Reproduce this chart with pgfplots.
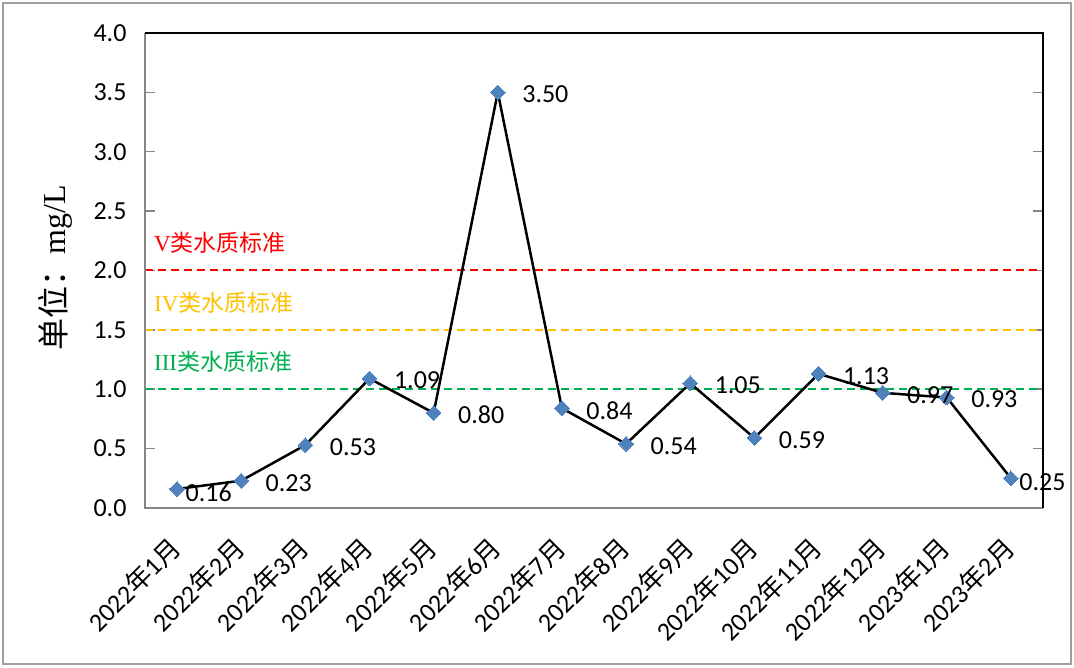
\documentclass[border=0pt]{standalone}
\usepackage{fontspec}
\setmainfont{Carlito}
\newfontfamily\cjk{Noto Sans CJK SC}
\newfontfamily\ser{Liberation Serif}
\usepackage{pgfplots}
\pgfplotsset{compat=1.18}
\definecolor{mblue}{RGB}{79,129,189}
\definecolor{gspine}{RGB}{134,134,134}
\definecolor{cred}{RGB}{255,0,0}
\definecolor{corange}{RGB}{255,192,0}
\definecolor{cgreen}{RGB}{0,176,80}
\newcommand{\ym}[2]{#1{\cjk 年}#2{\cjk 月}}
\begin{document}
\begin{tikzpicture}[x=1pt,y=1pt]
\useasboundingbox (-145,-160) rectangle (929,508);
\draw[gray!75, line width=2pt] (-142,-156) rectangle (926,505);
\begin{axis}[at={(0,0)}, anchor=south west, scale only axis,
  width=898pt, height=475pt,
  xmin=-0.5, xmax=13.5, ymin=0, ymax=4,
  axis line style={draw=none},
  ytick={0,0.5,1,1.5,2,2.5,3,3.5,4},
  yticklabel style={font=\fontsize{26}{30}\selectfont, xshift=-15pt,
    /pgf/number format/fixed, /pgf/number format/fixed zerofill,
    /pgf/number format/precision=1, /pgf/number format/assume math mode=true},
  tick align=inside, major tick length=10pt,
  ytick style={gspine, line width=1.5pt},
  xtick={0,...,13},
  xtick style={draw=none},
  xticklabels={\ym{2022}{1},\ym{2022}{2},\ym{2022}{3},\ym{2022}{4},\ym{2022}{5},\ym{2022}{6},\ym{2022}{7},\ym{2022}{8},\ym{2022}{9},\ym{2022}{10},\ym{2022}{11},\ym{2022}{12},\ym{2023}{1},\ym{2023}{2}},
  xticklabel style={font=\fontsize{26}{30}\selectfont, xshift=-10pt, yshift=-26pt, rotate=45, anchor=north east, inner sep=0pt},
  clip=false,
]
\addplot[cred, line width=2pt, dash pattern=on 8pt off 5pt] coordinates {(-0.5,2) (13.5,2)};
\addplot[corange, line width=2pt, dash pattern=on 8pt off 5pt] coordinates {(-0.5,1.5) (13.5,1.5)};
\addplot[cgreen, line width=2pt, dash pattern=on 8pt off 5pt] coordinates {(-0.5,1) (13.5,1)};
\addplot[black, line width=2.5pt, mark=square*, mark size=5.2pt,
  mark options={fill=mblue, draw=mblue, line width=0pt, rotate=45}] coordinates {
 (0,0.16) (1,0.23) (2,0.53) (3,1.09) (4,0.80) (5,3.50) (6,0.84)
 (7,0.54) (8,1.05) (9,0.59) (10,1.13) (11,0.97) (12,0.93) (13,0.25)};
\addplot[draw=none, mark=none, nodes near coords, point meta=y,
  nodes near coords style={anchor=west, xshift=21pt, yshift=-2pt, font=\fontsize{26}{30}\selectfont, black,
   /pgf/number format/fixed, /pgf/number format/fixed zerofill,
   /pgf/number format/precision=2, /pgf/number format/assume math mode=true}] coordinates {
 (1,0.23) (2,0.53) (3,1.09) (4,0.80) (5,3.50) (6,0.84)
 (7,0.54) (8,1.05) (9,0.59) (10,1.13) (11,0.97) (12,0.93)};
\addplot[draw=none, mark=none, nodes near coords, point meta=y,
  nodes near coords style={anchor=west, xshift=5pt, yshift=-4pt, font=\fontsize{26}{30}\selectfont, black,
   /pgf/number format/fixed, /pgf/number format/fixed zerofill,
   /pgf/number format/precision=2, /pgf/number format/assume math mode=true}] coordinates {
 (0,0.16) (13,0.25)};
\node[anchor=west, text=cred, font=\fontsize{23}{27}\selectfont, inner sep=0pt] at (axis cs:-0.36,2.23) {\ser V\cjk 类水质标准};
\node[anchor=west, text=corange, font=\fontsize{23}{27}\selectfont, inner sep=0pt] at (axis cs:-0.36,1.73) {\ser IV\cjk 类水质标准};
\node[anchor=west, text=cgreen, font=\fontsize{23}{27}\selectfont, inner sep=0pt] at (axis cs:-0.36,1.23) {\ser III\cjk 类水质标准};
\draw[gspine, line width=2pt] (rel axis cs:0,1) -- (rel axis cs:0,0) -- (rel axis cs:1,0);
\draw[black, line width=2.5pt] (rel axis cs:0,1) -- (rel axis cs:1,1) -- (rel axis cs:1,0);
\end{axis}
\node[rotate=90, anchor=center, font=\fontsize{32}{36}\selectfont] at (-90,240) {{\cjk 单位：}{\ser mg/L}};
\end{tikzpicture}
\end{document}
